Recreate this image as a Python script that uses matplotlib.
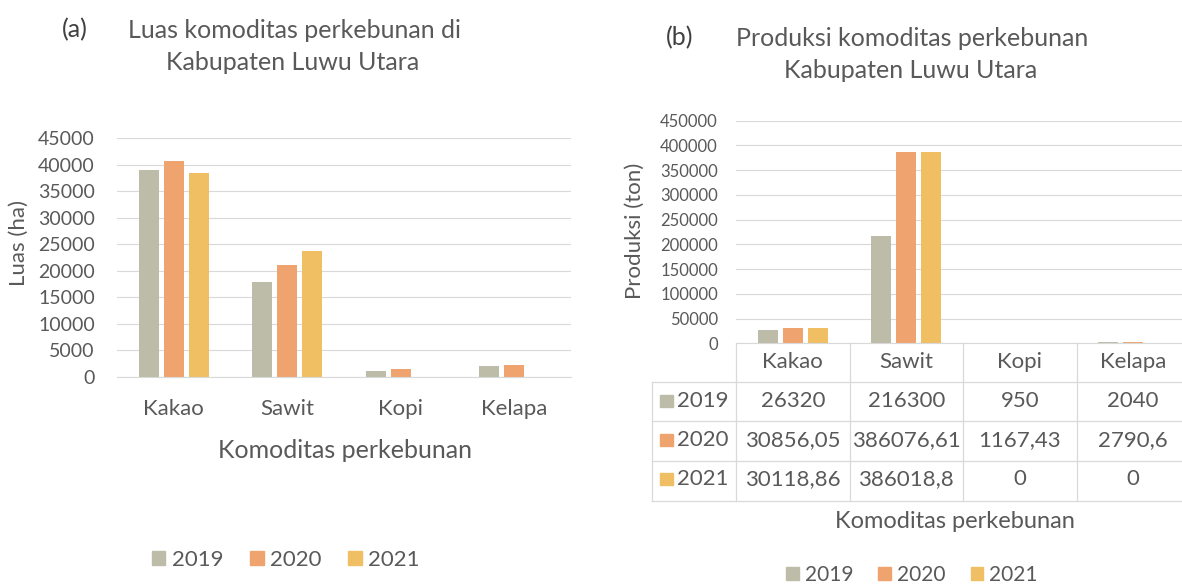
import numpy as np
import matplotlib
matplotlib.use("Agg")
import matplotlib.pyplot as plt
from matplotlib.patches import Rectangle
from matplotlib.transforms import blended_transform_factory

plt.rcParams['font.family'] = ['Lato', 'DejaVu Sans']

# data
komoditas = ["Kakao", "Sawit", "Kopi", "Kelapa"]
tahun = ["2019", "2020", "2021"]
luas_2019 = [39000, 17800, 1200, 2100]
luas_2020 = [40700, 21100, 1450, 2300]
luas_2021 = [38400, 23700, 0, 0]
prod_2019 = [26320, 216300, 950, 2040]
prod_2020 = [30856.05, 386076.61, 1167.43, 2790.6]
prod_2021 = [30118.86, 386018.8, 0, 0]
warna = ["#bdbca8", "#efa46f", "#f0be63"]

TXT = "#595959"
GRID = "#d9d9d9"
W, H = 1182, 585


def fx(x):
    return x / W


def fy(y):
    return 1 - y / H


def fmt(v):
    s = f"{v:.2f}".rstrip("0").rstrip(".")
    return s.replace(".", ",")


fig = plt.figure(figsize=(W / 100, H / 100), dpi=100)
x = np.arange(len(komoditas))
bw, step = 0.176, 0.22

# ---- (a) luas
ax_a = fig.add_axes([fx(117), fy(377), (571 - 117) / W, (377 - 138) / H])
for i, vals in enumerate([luas_2019, luas_2020, luas_2021]):
    ax_a.bar(x + (i - 1) * step, vals, bw, color=warna[i], zorder=2)
ax_a.set_ylim(0, 45000)
ax_a.set_xlim(-0.5, 3.5)
ax_a.set_yticks(np.arange(0, 45001, 5000))
ax_a.set_xticks(x, komoditas)
ax_a.tick_params(axis="y", length=0, pad=16, labelsize=14, labelcolor=TXT)
ax_a.tick_params(axis="x", length=0, pad=16, labelsize=16, labelcolor=TXT)
ax_a.grid(axis="y", color=GRID, lw=0.8, zorder=0)
for s in ["top", "right", "left"]:
    ax_a.spines[s].set_visible(False)
ax_a.spines["bottom"].set_color(GRID)
ax_a.set_ylabel("Luas (ha)", fontsize=16, color=TXT)
ax_a.yaxis.set_label_coords(-0.194, 0.56)

fig.text(fx(75), fy(30), "(a)", fontsize=18, color="#404040", ha="center", va="center")
fig.text(fx(294), fy(30), "Luas komoditas perkebunan di", fontsize=18, color=TXT,
         ha="center", va="center")
fig.text(fx(293), fy(62), "Kabupaten Luwu Utara", fontsize=18, color=TXT,
         ha="center", va="center")
fig.text(fx(345), fy(450), "Komoditas perkebunan", fontsize=18, color=TXT,
         ha="center", va="center")

handles = [Rectangle((0, 0), 1, 1, color=c) for c in warna]
fig.legend(handles, tahun, loc="center", bbox_to_anchor=(fx(286), fy(560)), ncol=3,
           frameon=False, fontsize=16, labelcolor=TXT, handlelength=0.6,
           handleheight=0.6, handletextpad=0.3, columnspacing=1.2)

# ---- (b) produksi
ax_b = fig.add_axes([fx(736), fy(343.3), (1190 - 736) / W, (343.3 - 120.7) / H])
for i, vals in enumerate([prod_2019, prod_2020, prod_2021]):
    ax_b.bar(x + (i - 1) * step, vals, bw, color=warna[i], zorder=2)
ax_b.set_ylim(0, 450000)
ax_b.set_xlim(-0.5, 3.5)
ax_b.set_yticks(np.arange(0, 450001, 50000))
ax_b.set_xticks([])
ax_b.tick_params(axis="y", length=0, pad=13, labelsize=12, labelcolor=TXT)
ax_b.grid(axis="y", color=GRID, lw=0.8, zorder=0)
for s in ["top", "right", "left"]:
    ax_b.spines[s].set_visible(False)
ax_b.spines["bottom"].set_color(GRID)
ax_b.set_ylabel("Produksi (ton)", fontsize=16, color=TXT)
ax_b.yaxis.set_label_coords(-0.2, 0.504)

# data table under the bars
tr = blended_transform_factory(ax_b.transData, fig.transFigure)
rows_y = [343.3, 381.7, 420.7, 461, 500.7]
left = -0.5 - (736 - 651.7) / 113.5
for yy in rows_y[1:]:
    ax_b.plot([left, 3.5], [fy(yy)] * 2, color=GRID, lw=0.9, transform=tr, clip_on=False)
ax_b.plot([left, left], [fy(rows_y[1]), fy(rows_y[-1])], color=GRID, lw=0.9,
          transform=tr, clip_on=False)
for xc in np.arange(-0.5, 3.6, 1):
    ax_b.plot([xc, xc], [fy(rows_y[0]), fy(rows_y[-1])], color=GRID, lw=0.9,
              transform=tr, clip_on=False)
for j, name in enumerate(komoditas):
    ax_b.text(j, fy(362), name, transform=tr, ha="center", va="center",
              fontsize=16, color=TXT, clip_on=False)
row_cy = [401, 440, 479]
for i, vals in enumerate([prod_2019, prod_2020, prod_2021]):
    for j, v in enumerate(vals):
        ax_b.text(j, fy(row_cy[i]), fmt(v), transform=tr, ha="center", va="center",
                  fontsize=16, color=TXT, clip_on=False)
    fig.add_artist(Rectangle((fx(660), fy(row_cy[i] + 6)), 13 / W, 12 / H,
                             color=warna[i], transform=fig.transFigure))
    fig.text(fx(677), fy(row_cy[i]), tahun[i], fontsize=16, color=TXT,
             ha="left", va="center")

fig.text(fx(680), fy(38), "(b)", fontsize=18, color="#404040", ha="center", va="center")
fig.text(fx(912), fy(38), "Produksi komoditas perkebunan", fontsize=18, color=TXT,
         ha="center", va="center")
fig.text(fx(911), fy(70), "Kabupaten Luwu Utara", fontsize=18, color=TXT,
         ha="center", va="center")
fig.text(fx(955), fy(522), "Komoditas perkebunan", fontsize=17, color=TXT,
         ha="center", va="center")
fig.legend(handles, tahun, loc="center", bbox_to_anchor=(fx(912), fy(575)), ncol=3,
           frameon=False, fontsize=15, labelcolor=TXT, handlelength=0.6,
           handleheight=0.6, handletextpad=0.3, columnspacing=1.2)

fig.savefig("out.png", dpi=100, facecolor="white")
